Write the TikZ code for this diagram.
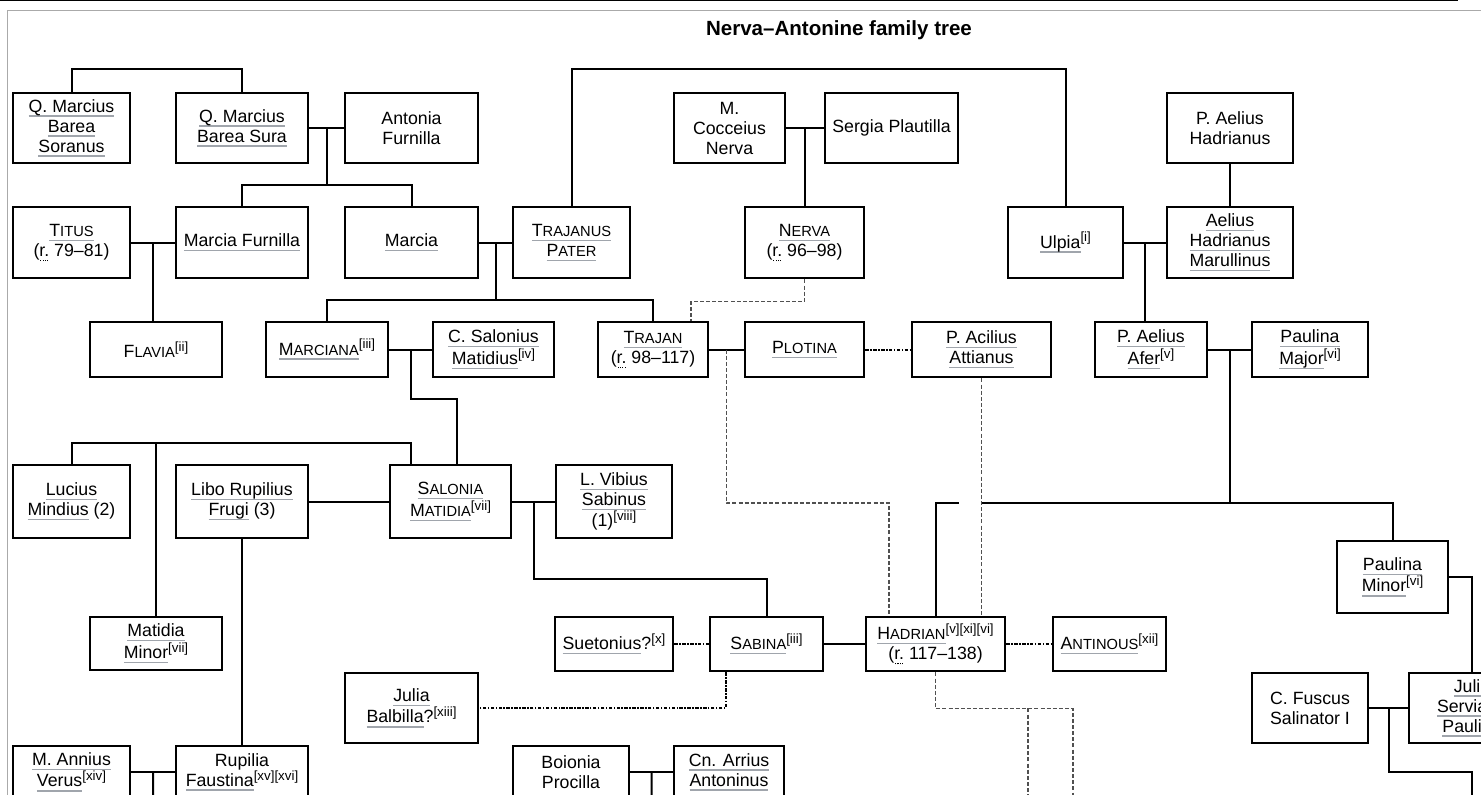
\documentclass[tikz,border=0pt]{standalone}
\usepackage{fontspec}
\setmainfont{Liberation Sans}
\usetikzlibrary{calc}
\definecolor{Under}{RGB}{160,165,172}
\definecolor{Frame}{RGB}{170,170,170}
\definecolor{Dash}{RGB}{80,80,80}
\newcommand\lnk[1]{\setbox0\hbox{#1}\rlap{\color{Under}\rule[-3.4pt]{\wd0}{0.9pt}}\box0\relax}
\newcommand\abr[1]{\setbox0\hbox{#1}\rlap{\raisebox{-3.6pt}{\hbox to\wd0{\xleaders\hbox to 1.5pt{\hss\rule{0.8pt}{0.8pt}\hss}\hfill}}}\box0\relax}
\newcommand\sk[2]{#1{\fontsize{11}{15}\selectfont#2}}
\newcommand\refn[1]{\raisebox{4.6pt}{\fontsize{10}{12}\selectfont#1}}

\begin{document}
\begin{tikzpicture}[x=0.75pt,y=-0.75pt,
 p/.style={draw,line width=2.1pt,align=center,inner sep=0pt,font=\fontsize{13.3}{15}\selectfont},
 wh/.style 2 args={minimum width=#1*0.75pt,minimum height=#2*0.75pt},
 l/.style={line width=1.5pt},
 ad/.style={draw=Dash,line width=1.1pt,dash pattern=on 3pt off 1.6pt},
 rel/.style={line width=1.5pt,dash pattern=on 2.6pt off 1.1pt on 1.1pt off 1.1pt}]
\useasboundingbox (0,0) rectangle (1481,795);
\clip (0,0) rectangle (1481,795);
\draw[line width=1.2pt] (0,0.7)--(1458,0.7);
\draw[Frame,line width=1.2pt] (7.5,800)--(7.5,10.5)--(1490,10.5);
\node[font=\fontsize{15.4}{18}\selectfont\bfseries] (ttl) at (839,30) {Nerva–Antonine family tree};

\node[p,wh={117}{70}] (sor) at (71.5,128) {\lnk{Q. Marcius}\\\lnk{Barea}\\\lnk{Soranus}};
\node[p,wh={132}{70}] (sura) at (242,128) {\lnk{Q. Marcius}\\\lnk{Barea Sura}};
\node[p,wh={133}{70}] (anf) at (411.5,128) {Antonia\\Furnilla};
\node[p,wh={111}{70}] (coc) at (729.5,128) {M.\\Cocceius\\Nerva};
\node[p,wh={133}{70}] (serg) at (891.5,128) {Sergia Plautilla};
\node[p,wh={126}{70}] (pah) at (1230,128) {P. Aelius\\Hadrianus};

\node[p,wh={117}{71}] (tit) at (71.5,242.5) {\lnk{\sk{T}{ITUS}}\\(\abr{r.} 79–81)};
\node[p,wh={132}{71}] (mfur) at (242,242.5) {\lnk{Marcia Furnilla}};
\node[p,wh={133}{71}] (mar) at (411.5,242.5) {\lnk{Marcia}};
\node[p,wh={117}{71}] (tpat) at (571.5,242.5) {\lnk{\sk{T}{RAJANUS}}\\\lnk{\sk{P}{ATER}}};
\node[p,wh={119}{71}] (ner) at (804.5,242.5) {\lnk{\sk{N}{ERVA}}\\(\abr{r.} 96–98)};
\node[p,wh={115}{71}] (ulp) at (1065.5,242.5) {\lnk{Ulpia}\refn{[i]}};
\node[p,wh={126}{71}] (mrl) at (1230,242.5) {\lnk{Aelius}\\\lnk{Hadrianus}\\\lnk{Marullinus}};

\node[p,wh={132}{55}] (fla) at (156,349.5) {\sk{F}{LAVIA}\refn{[ii]}};
\node[p,wh={122}{55}] (mcn) at (327,349.5) {\lnk{\sk{M}{ARCIANA}}\refn{[iii]}};
\node[p,wh={121}{55}] (csm) at (493.5,349.5) {\lnk{C. Salonius}\\\lnk{Matidius}\refn{[iv]}};
\node[p,wh={110}{55}] (tra) at (653,349.5) {\lnk{\sk{T}{RAJAN}}\\(\abr{r.} 98–117)};
\node[p,wh={119}{55}] (plo) at (804.5,349.5) {\lnk{\sk{P}{LOTINA}}};
\node[p,wh={139}{55}] (att) at (981.5,349.5) {\lnk{P. Acilius}\\\lnk{Attianus}};
\node[p,wh={112}{55}] (afer) at (1151,349.5) {\lnk{P. Aelius}\\\lnk{Afer}\refn{[v]}};
\node[p,wh={116}{55}] (pmaj) at (1310,349.5) {\lnk{Paulina}\\\lnk{Major}\refn{[vi]}};

\node[p,wh={117}{73}] (lmin) at (71.5,501.5) {\lnk{Lucius}\\\lnk{Mindius} (2)};
\node[p,wh={132}{73}] (libo) at (242,501.5) {\lnk{Libo Rupilius}\\\lnk{Frugi} (3)};
\node[p,wh={121}{73}] (sal) at (450.5,501.5) {\lnk{\sk{S}{ALONIA}}\\\lnk{\sk{M}{ATIDIA}}\refn{[vii]}};
\node[p,wh={116}{73}] (vib) at (614,501.5) {\lnk{L. Vibius}\\\lnk{Sabinus}\\(1)\refn{[viii]}};

\node[p,wh={111}{72}] (pmin) at (1392.5,577) {\lnk{Paulina}\\\lnk{Minor}\refn{[vi]}};
\node[p,wh={132}{53}] (mmin) at (156,643.5) {\lnk{Matidia}\\\lnk{Minor}\refn{[vii]}};
\node[p,wh={118}{54}] (sue) at (614,644) {\lnk{Suetonius}?\refn{[x]}};
\node[p,wh={113}{54}] (sab) at (766.5,644) {\lnk{\sk{S}{ABINA}}\refn{[iii]}};
\node[p,wh={139}{54}] (had) at (935.5,644) {\lnk{\sk{H}{ADRIAN}}\refn{[v][xi][vi]}\\(\abr{r.} 117–138)};
\node[p,wh={113}{54}] (ant) at (1109.5,644) {\lnk{\sk{A}{NTINOUS}}\refn{[xii]}};

\node[p,wh={133}{70}] (jbal) at (411.5,708) {\lnk{Julia}\\\lnk{Balbilla}?\refn{[xiii]}};
\node[p,wh={116}{70}] (fus) at (1310,708) {C. Fuscus\\Salinator I};
\node[p,wh={126}{70}] (jsp) at (1472,708) {\lnk{Julia}\\\lnk{Serviana}\\\lnk{Paulina}};

\node[p,wh={117}{52}] (ann) at (71.5,772) {\lnk{M. Annius}\\\lnk{Verus}\refn{[xiv]}};
\node[p,wh={132}{52}] (rup) at (242,772) {Rupilia\\\lnk{Faustina}\refn{[xv][xvi]}};
\node[p,wh={116}{52}] (boi) at (571,772) {Boionia\\Procilla};
\node[p,wh={110}{52}] (arr) at (729,772) {\lnk{Cn. Arrius}\\\lnk{Antoninus}};

\coordinate (k1) at (1028,800);\coordinate (k2) at (1073,800);\coordinate (k3) at (1472,800);
\coordinate (k4) at (153,800);\coordinate (k5) at (651.5,800);

\coordinate (m1) at ($(sura.east)!.5!(anf.west)$);
\coordinate (m2) at ($(coc.east)!.5!(serg.west)$);
\coordinate (m3) at ($(tit.east)!.5!(mfur.west)$);
\coordinate (m4) at ($(mar.east)!.5!(tpat.west)$);
\coordinate (m5) at ($(ulp.east)!.5!(mrl.west)$);
\coordinate (m6) at ($(mcn.east)!.5!(csm.west)$);
\coordinate (m7) at ($(tra.east)!.5!(plo.west)$);
\coordinate (m8) at ($(afer.east)!.5!(pmaj.west)$);
\coordinate (m9) at ($(sal.east)!.5!(vib.west)$);
\coordinate (m10) at ($(fus.east)!.5!(jsp.west)$);
\coordinate (m11) at ($(ann.east)!.5!(rup.west)$);
\coordinate (m12) at ($(boi.east)!.5!(arr.west)$);

\draw[l] (sor.north)--++(0,-23)-|(sura.north);\draw[l] (tpat.north)--++(0,-137)-|(ulp.north);
\draw[l] (sura.east)--(anf.west);\draw[l] (m1)--++(0,57) coordinate (d1)-|(mfur.north);\draw[l] (d1)-|(mar.north);
\draw[l] (coc.east)--(serg.west);\draw[l] (m2)--(m2 |- ner.north);\draw[l] (pah.south)--(mrl.north);
\draw[l] (tit.east)--(mfur.west);\draw[l] (m3)--(m3 |- fla.north);
\draw[l] (mar.east)--(tpat.west);\draw[l] (m4)--++(0,57.5) coordinate (d4)-|(mcn.north);\draw[l] (d4)-|(tra.north);
\draw[ad] (ner.south)--++(0,22)-|($(tra.north)+(38,0)$);
\draw[l] (ulp.east)--(mrl.west);\draw[l] (m5)--(m5 |- afer.north);
\draw[l] (mcn.east)--(csm.west);\draw[l] (m6)--++(0,49)-|($(sal.north)+(6.5,0)$);
\draw[l] (tra.east)--(plo.west);\draw[ad] (m7)--++(0,153.5)-|($(had.north)+(-46.5,0)$);
\draw[rel] (plo.east)--(att.west);\draw[ad] (att.south)--(att.south |- had.north);
\draw[l] (afer.east)--(pmaj.west);\draw[l] (m8)--++(0,153.5);
\draw[l] (had.north)|-++(23,-113);\draw[l] ($(had.north)+(46.5,-113)$)-|(pmin.north);
\draw[l] (lmin.north)--++(0,-21) coordinate (d9)-|($(sal.north)+(-39.5,0)$);\draw[l] (mmin.north |- d9)--(mmin.north);
\draw[l] (libo.east)--(sal.west);\draw[l] (libo.south)--(rup.north);
\draw[l] (sal.east)--(vib.west);\draw[l] (m9)--++(0,77.5)-|(sab.north);
\draw[rel] (sue.east)--(sab.west);\draw[l] (sab.east)--(had.west);\draw[rel] (had.east)--(ant.west);
\draw[rel] ($(sab.south)+(-40.5,0)$)|-(jbal.east);
\draw[ad] (had.south)--++(0,36) coordinate (d12)-|(k2);\draw[ad] (k1 |- d12)--(k1);
\draw[l] (pmin.east)-|(jsp.north);
\draw[l] (fus.east)--(jsp.west);\draw[l] (m10)--++(0,64)-|(k3);
\draw[l] (ann.east)--(rup.west);\draw[l] (m11)--(k4);
\draw[l] (boi.east)--(arr.west);\draw[l] (m12)--(k5);
\end{tikzpicture}
\end{document}
